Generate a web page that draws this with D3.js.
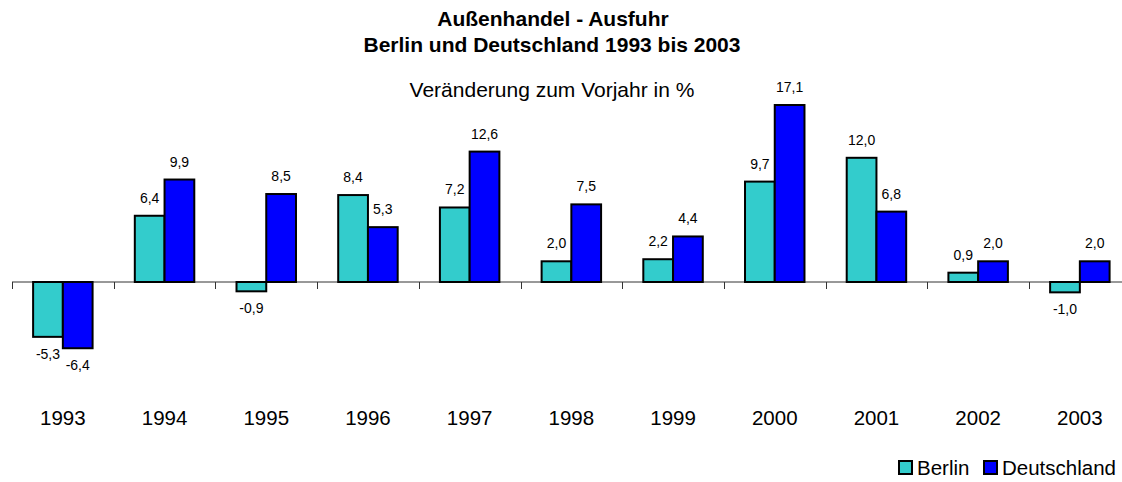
<!DOCTYPE html>
<html>
<head>
<meta charset="utf-8">
<script src="https://cdn.jsdelivr.net/npm/d3@7"></script>
<style>
  body { margin: 0; background: #fff; }
  svg { display: block; font-family: Arial, "Liberation Sans", sans-serif; }
</style>
</head>
<body>
<svg></svg>
<script>
let years = ['1993', '1994', '1995', '1996', '1997', '1998', '1999', '2000', '2001', '2002', '2003'];
let series = ['Berlin', 'Deutschland'];
let berlin = [-5.3, 6.4, -0.9, 8.4, 7.2, 2.0, 2.2, 9.7, 12.0, 0.9, -1.0];
let deutschland = [-6.4, 9.9, 8.5, 5.3, 12.6, 7.5, 4.4, 17.1, 6.8, 2.0, 2.0];
let colors = ['#33cccc', '#0000ff'];

let svgWidth = 1122, svgHeight = 482;

let svg = d3.select('svg')
    .attr('width', svgWidth)
    .attr('height', svgHeight);

let x0 = d3.scaleBand()
    .domain(years)
    .range([12, 1130.7]);

let x1 = d3.scaleBand()
    .domain(series)
    .range([0, x0.bandwidth()])
    .paddingOuter(0.71);

let y = d3.scaleLinear()
    .domain([-10, 20])
    .range([385.5, 75]);

let fmt = v => v.toFixed(1).replace('.', ',');

// titles
svg.append('text')
    .attr('x', 553).attr('y', 26)
    .attr('text-anchor', 'middle')
    .style('font-weight', 'bold').style('font-size', '21px')
    .text('Außenhandel - Ausfuhr');
svg.append('text')
    .attr('x', 552).attr('y', 52)
    .attr('text-anchor', 'middle')
    .style('font-weight', 'bold').style('font-size', '21px')
    .text('Berlin und Deutschland 1993 bis 2003');
svg.append('text')
    .attr('x', 552).attr('y', 97)
    .attr('text-anchor', 'middle')
    .style('font-size', '21px')
    .text('Veränderung zum Vorjahr in %');

// axis line and ticks at category boundaries
svg.append('line')
    .attr('x1', x0.range()[0]).attr('x2', svgWidth)
    .attr('y1', y(0)).attr('y2', y(0))
    .attr('stroke', '#333').attr('stroke-width', 1);

svg.selectAll('.tick')
    .data(years)
    .enter()
    .append('line')
    .attr('class', 'tick')
    .attr('x1', d => Math.round(x0(d)) + 0.5)
    .attr('x2', d => Math.round(x0(d)) + 0.5)
    .attr('y1', y(0)).attr('y2', y(0) + 7)
    .attr('stroke', '#333');

let rows = years.map((yr, i) => ({ year: yr, vals: [berlin[i], deutschland[i]] }));

let groups = svg.selectAll('.group')
    .data(rows)
    .enter()
    .append('g')
    .attr('class', 'group')
    .attr('transform', d => 'translate(' + x0(d.year) + ',0)');

groups.selectAll('rect')
    .data(d => d.vals.map((v, j) => ({ s: series[j], v: v, c: colors[j] })))
    .enter()
    .append('rect')
    .attr('x', d => x1(d.s))
    .attr('y', d => y(Math.max(0, d.v)))
    .attr('width', x1.bandwidth())
    .attr('height', d => Math.abs(y(d.v) - y(0)))
    .attr('fill', d => d.c)
    .attr('stroke', '#000')
    .attr('stroke-width', 2);

groups.selectAll('.val')
    .data(d => d.vals.map((v, j) => ({ s: series[j], v: v })))
    .enter()
    .append('text')
    .attr('class', 'val')
    .attr('x', d => x1(d.s) + x1.bandwidth() / 2)
    .attr('y', d => d.v >= 0 ? y(d.v) - 13 : y(d.v) + 22)
    .attr('text-anchor', 'middle')
    .style('font-size', '14px')
    .text(d => fmt(d.v));

// year labels
svg.selectAll('.year')
    .data(years)
    .enter()
    .append('text')
    .attr('class', 'year')
    .attr('x', d => x0(d) + x0.bandwidth() / 2)
    .attr('y', 425)
    .attr('text-anchor', 'middle')
    .style('font-size', '20.5px')
    .text(d => d);

// legend
let legendX = [899, 984];
let legend = svg.selectAll('.legend')
    .data(series)
    .enter()
    .append('g')
    .attr('class', 'legend')
    .attr('transform', (d, i) => 'translate(' + legendX[i] + ',461)');

legend.append('rect')
    .attr('width', 13).attr('height', 13)
    .attr('fill', (d, i) => colors[i])
    .attr('stroke', '#000').attr('stroke-width', 2);

legend.append('text')
    .attr('x', 18).attr('y', 14)
    .style('font-size', '20.5px')
    .text(d => d);
</script>
</body>
</html>
